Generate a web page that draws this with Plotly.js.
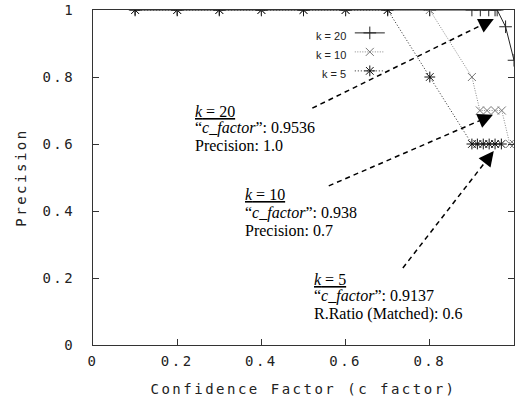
<!DOCTYPE html>
<html>
<head>
<meta charset="utf-8">
<script src="https://cdn.plot.ly/plotly-3.0.1.min.js"></script>
<style>
  html, body { margin: 0; padding: 0; background: #fff; }
  #chart { width: 516px; height: 402px; }
  .xtick text, .ytick text, .xtitle, .ytitle { letter-spacing: 2.5px; }
</style>
</head>
<body>
<div id="chart"></div>
<script>
// ---- data ----
const seriesNames = ['k = 20', 'k = 10', 'k = 5'];

const xK20 = [0.1, 0.2, 0.3, 0.4, 0.5, 0.6, 0.7, 0.8, 0.9, 0.92, 0.94, 0.955, 0.96, 0.98, 1.0];
const yK20 = [1, 1, 1, 1, 1, 1, 1, 1, 1, 1, 1, 1, 1, 0.95, 0.85];

const xK10 = [0.1, 0.2, 0.3, 0.4, 0.5, 0.6, 0.7, 0.8, 0.9, 0.919, 0.936, 0.955, 0.971, 0.99, 1.0];
const yK10 = [1, 1, 1, 1, 1, 1, 1, 1, 0.8, 0.7, 0.7, 0.7, 0.7, 0.6, 0.6];

const xK5 = [0.1, 0.2, 0.3, 0.4, 0.5, 0.6, 0.7, 0.8, 0.9, 0.913, 0.927, 0.941, 0.955, 0.97];
const yK5 = [1, 1, 1, 1, 1, 1, 1, 0.8, 0.6, 0.6, 0.6, 0.6, 0.6, 0.6];

const xTickVals = [0, 0.2, 0.4, 0.6, 0.8];
const xTickText = ['0', '0.2', '0.4', '0.6', '0.8'];
const yTickVals = [0, 0.2, 0.4, 0.6, 0.8, 1];
const yTickText = ['0', '0.2', '0.4', '0.6', '0.8', '1'];

const xTitle = 'Confidence Factor (c factor)';
const yTitle = 'Precision';

// callout texts
const calloutKNum = ['20', '10', '5'];
const calloutCF = ['0.9536', '0.938', '0.9137'];
const calloutLabel = ['Precision: 1.0', 'Precision: 0.7', 'R.Ratio (Matched): 0.6'];

// ---- layout settings (positions / styles) ----
const calloutPos = [
  {x: 0.238, y: [0.697, 0.647, 0.597]},
  {x: 0.357, y: [0.448, 0.394, 0.343]},
  {x: 0.521, y: [0.197, 0.145, 0.093]}
];
const arrowTail = [[0.521, 0.707], [0.560, 0.475], [0.736, 0.230]];
const arrowHead = [[0.952, 0.973], [0.950, 0.687], [0.952, 0.579]];

const axisFont = {family: 'DejaVu Sans Mono, monospace', size: 14, color: '#222'};
const serif = {family: 'Liberation Serif, Times New Roman, serif', size: 16, color: '#000'};

const traces = [
  {
    x: xK20, y: yK20, name: ' ', type: 'scatter', mode: 'lines+markers',
    line: {color: '#222', width: 1},
    marker: {symbol: 'cross-thin-open', size: 9, line: {color: '#222', width: 1}, color: '#222'}
  },
  {
    x: xK10, y: yK10, name: ' ', type: 'scatter', mode: 'lines+markers',
    line: {color: '#8a8a8a', width: 1, dash: '1px,1.5px'},
    marker: {symbol: 'x-thin-open', size: 8, line: {color: '#777', width: 1}, color: '#777'}
  },
  {
    x: xK5, y: yK5, name: ' ', type: 'scatter', mode: 'lines+markers',
    line: {color: '#222', width: 1, dash: '1px,2px'},
    marker: {symbol: 'asterisk-open', size: 9, line: {color: '#111', width: 1}, color: '#111'}
  }
];

const annotations = [];
const shapes = [];

// legend labels (gnuplot style: text left of the sample)
const legendLabelY = [0.922, 0.866, 0.810];
seriesNames.forEach((n, i) => {
  annotations.push({
    xref: 'paper', yref: 'paper', x: 0.606, y: legendLabelY[i],
    xanchor: 'right', yanchor: 'middle', text: n, showarrow: false,
    font: {family: 'Liberation Sans, Arial, sans-serif', size: 11, color: '#222'}
  });
});

// callouts
calloutKNum.forEach((k, i) => {
  const p = calloutPos[i];
  const lines = [
    '<u><i>k</i> = ' + k + '</u>',
    '\u201C<i>c_factor</i>\u201D: ' + calloutCF[i],
    calloutLabel[i]
  ];
  lines.forEach((t, j) => {
    annotations.push({
      xref: 'x', yref: 'y', x: p.x, y: p.y[j], xanchor: 'left', yanchor: 'middle',
      text: t, showarrow: false, font: serif
    });
  });
});

// dashed arrows
arrowTail.forEach((t, i) => {
  const h = arrowHead[i];
  shapes.push({
    type: 'line', xref: 'x', yref: 'y',
    x0: t[0], y0: t[1],
    x1: h[0] - (h[0] - t[0]) * 0.05, y1: h[1] - (h[1] - t[1]) * 0.05,
    line: {color: '#000', width: 1.5, dash: '5px,4px'}
  });
  annotations.push({
    xref: 'x', yref: 'y', axref: 'x', ayref: 'y',
    x: h[0], y: h[1],
    ax: h[0] - (h[0] - t[0]) * 0.08, ay: h[1] - (h[1] - t[1]) * 0.08,
    text: '', showarrow: true, arrowhead: 2, arrowsize: 2, arrowwidth: 1.5,
    arrowcolor: '#000', standoff: 0
  });
});

const layout = {
  width: 516, height: 402,
  margin: {l: 93, r: 2, t: 10, b: 57, pad: 0},
  paper_bgcolor: '#fff', plot_bgcolor: '#fff',
  showlegend: true,
  legend: {
    x: 0.61, y: 0.975, xanchor: 'left', yanchor: 'top',
    bgcolor: 'rgba(0,0,0,0)', borderwidth: 0,
    font: {family: 'Liberation Sans, Arial, sans-serif', size: 11, color: '#222'},
    tracegroupgap: 0
  },
  xaxis: {
    range: [0, 1], tickvals: xTickVals, ticktext: xTickText,
    ticks: 'inside', ticklen: 6, tickcolor: '#333', tickwidth: 1,
    showline: true, linecolor: '#333', linewidth: 1, mirror: 'ticks',
    showgrid: false, zeroline: false, tickfont: axisFont, ticklabelstandoff: 3,
    title: {text: xTitle, font: axisFont, standoff: 16}
  },
  yaxis: {
    range: [0, 1], tickvals: yTickVals, ticktext: yTickText,
    ticks: 'inside', ticklen: 6, tickcolor: '#333', tickwidth: 1,
    showline: true, linecolor: '#333', linewidth: 1, mirror: 'ticks',
    showgrid: false, zeroline: false, tickfont: axisFont, ticklabelstandoff: 14,
    title: {text: yTitle, font: axisFont, standoff: 12}
  },
  annotations: annotations,
  shapes: shapes
};

Plotly.newPlot('chart', traces, layout, {displayModeBar: false, staticPlot: true});
</script>
</body>
</html>
